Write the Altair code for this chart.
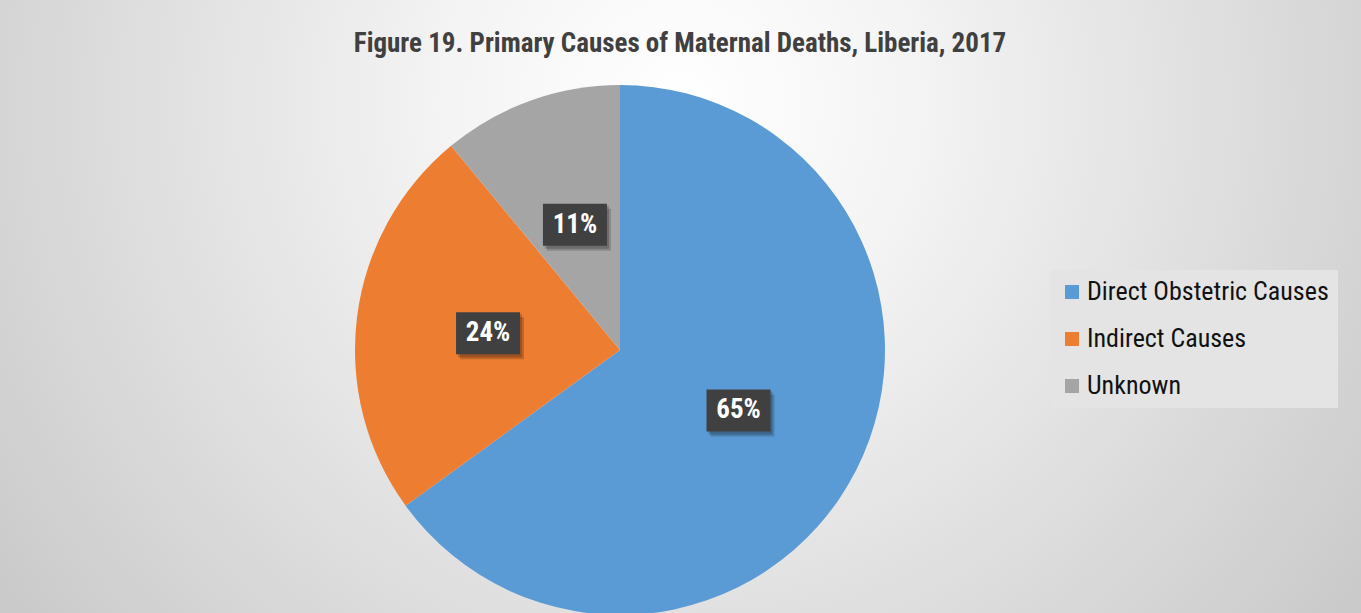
import altair as alt
import pandas as pd

# ---- data ----
categories = ["Direct Obstetric Causes", "Indirect Causes", "Unknown"]
shares = [65, 24, 11]
labels = ["65%", "24%", "11%"]
colors = ["#5B9BD5", "#ED7D31", "#A5A5A5"]
title_text = "Figure 19. Primary Causes of Maternal Deaths, Liberia, 2017"

# ---- layout ----
W, H = 1361, 613
CX, CY, R = 620, 350, 265
LR = 133          # label distance from centre
BW, BH = 32, 21   # half box size
NARROW = "Liberation Sans Narrow, Arial Narrow, Roboto Condensed, Liberation Sans, sans-serif"

df = pd.DataFrame({
    "cause": categories,
    "share": shares,
    "label": labels,
    "rank": list(range(len(categories))),
})

bg = alt.Chart(pd.DataFrame({"a": [0]})).mark_rect(
    fill={
        "gradient": "radial",
        "x1": 0.5, "y1": 0.35, "r1": 0,
        "x2": 0.5, "y2": 0.35, "r2": 0.68,
        "stops": [
            {"offset": 0, "color": "#ffffff"},
            {"offset": 0.25, "color": "#f4f4f4"},
            {"offset": 1, "color": "#c4c4c4"},
        ],
    }
).encode(x=alt.value(0), x2=alt.value(W), y=alt.value(0), y2=alt.value(H))

title = alt.Chart(pd.DataFrame({"t": [title_text]})).mark_text(
    font=NARROW, fontSize=27, fontWeight="bold", color="#404040",
    align="center", baseline="middle",
).encode(text="t:N", x=alt.value(680), y=alt.value(44))

pie = alt.Chart(df).mark_arc(radius=R).encode(
    theta=alt.Theta("share:Q", stack=True),
    color=alt.Color(
        "cause:N",
        sort=categories,
        scale=alt.Scale(domain=categories, range=colors),
        legend=alt.Legend(
            title=None,
            orient="none",
            legendX=1050,
            legendY=270,
            fillColor="#e4e4e4",
            padding=9,
            symbolType="square",
            symbolSize=196,
            symbolStrokeWidth=0,
            labelFont=NARROW,
            labelFontSize=26,
            labelColor="#111111",
            labelLimit=400,
            labelOffset=2,
            rowPadding=21,
        ),
    ),
    order=alt.Order("rank:Q"),
    x=alt.value(CX),
    y=alt.value(CY),
)

lab = alt.Chart(df).transform_joinaggregate(
    total="sum(share)"
).transform_window(
    cum="sum(share)", sort=[alt.SortField("rank")], frame=[None, 0]
).transform_calculate(
    mid="(datum.cum - datum.share / 2) / datum.total * 2 * PI",
).transform_calculate(
    lx=f"{CX} + {LR} * sin(datum.mid)",
    ly=f"{CY} - {LR} * cos(datum.mid)",
).transform_calculate(
    bx1=f"datum.lx - {BW}", bx2=f"datum.lx + {BW}",
    by1=f"datum.ly - {BH}", by2=f"datum.ly + {BH}",
    sx1=f"datum.lx - {BW} + 4", sx2=f"datum.lx + {BW} + 4",
    sy1=f"datum.ly - {BH} + 5", sy2=f"datum.ly + {BH} + 5",
    tx1=f"datum.lx - {BW} + 2", tx2=f"datum.lx + {BW} + 2",
    ty1=f"datum.ly - {BH} + 2", ty2=f"datum.ly + {BH} + 3",
)

shadow1 = lab.mark_rect(color="#000000", opacity=0.18).encode(
    x=alt.X("sx1:Q", scale=None, axis=None), x2="sx2:Q",
    y=alt.Y("sy1:Q", scale=None, axis=None), y2="sy2:Q",
)
shadow2 = lab.mark_rect(color="#000000", opacity=0.2).encode(
    x=alt.X("tx1:Q", scale=None, axis=None), x2="tx2:Q",
    y=alt.Y("ty1:Q", scale=None, axis=None), y2="ty2:Q",
)
boxes = lab.mark_rect(color="#404040").encode(
    x=alt.X("bx1:Q", scale=None, axis=None), x2="bx2:Q",
    y=alt.Y("by1:Q", scale=None, axis=None), y2="by2:Q",
)
texts = lab.mark_text(
    font=NARROW, fontSize=27, fontWeight="bold", color="#ffffff",
    align="center", baseline="middle",
).encode(
    x=alt.X("lx:Q", scale=None, axis=None),
    y=alt.Y("ly:Q", scale=None, axis=None),
    text="label:N",
)

chart = alt.layer(bg, pie, title, shadow1, shadow2, boxes, texts).properties(
    width=W,
    height=H,
    padding=0,
    autosize=alt.AutoSizeParams(type="none"),
    background="#d0d0d0",
).configure_view(stroke=None)

chart.save("out.html", embed_options={"renderer": "svg", "actions": False})
